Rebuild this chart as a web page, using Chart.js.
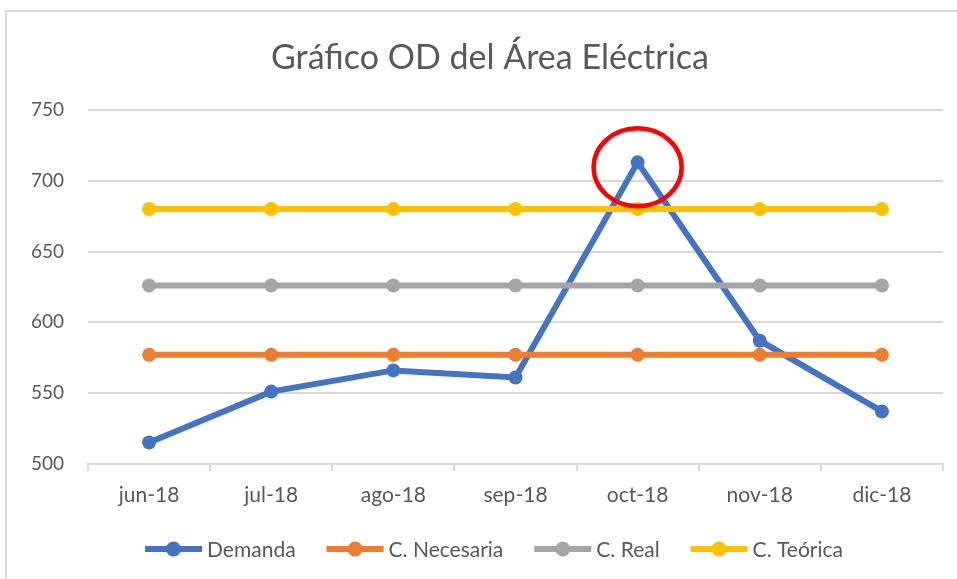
<!DOCTYPE html>
<html lang="es">
<head>
<meta charset="utf-8">
<title>Gráfico OD del Área Eléctrica</title>
<script src="https://cdn.jsdelivr.net/npm/chart.js@4.4.1/dist/chart.umd.min.js"></script>
<style>
    html, body { margin: 0; padding: 0; background: #fff; overflow: hidden; }
    .frame {
        position: absolute; left: 5px; top: 10px;
        width: 975px; height: 600px;
        border-left: 2px solid #d9d9d9; border-top: 2px solid #d9d9d9;
        background: #fff;
    }
    canvas { display: block; }
</style>
</head>
<body>
<div class="frame"><canvas id="odChart" width="966" height="567"></canvas></div>
<script>
// Datos del área eléctrica (jun-18 a dic-18)
const meses = ["jun-18", "jul-18", "ago-18", "sep-18", "oct-18", "nov-18", "dic-18"];
const demanda = [515, 551, 566, 561, 713, 587, 537];
const capNecesaria = [577, 577, 577, 577, 577, 577, 577];
const capReal = [626, 626, 626, 626, 626, 626, 626];
const capTeorica = [680, 680, 680, 680, 680, 680, 680];

const yMin = 500;
const yMax = 750;
const yStep = 50;

const chartTitle = "Gráfico OD del Área Eléctrica";
const textColor = "#595959";
const gridColor = "#d9d9d9";
const fontFamily = "Lato, 'Liberation Sans', sans-serif";

const series = [
    { label: "Demanda", data: demanda, color: "#4472c4" },
    { label: "C. Necesaria", data: capNecesaria, color: "#ed7d31" },
    { label: "C. Real", data: capReal, color: "#a5a5a5" },
    { label: "C. Teórica", data: capTeorica, color: "#ffc000" }
];

// Title on top and the line+dot key underneath the axis
const titleAndKey = {
    id: "titleAndKey",
    afterDraw(chart) {
        const ctx = chart.ctx;
        const cx = chart.width / 2;
        ctx.save();
        ctx.fillStyle = textColor;

        ctx.font = "34px " + fontFamily;
        ctx.textAlign = "center";
        ctx.textBaseline = "alphabetic";
        ctx.fillText(chartTitle, cx, 57);

        // key
        const iconW = 57, gap = 5, spacing = 31, keyY = 537;
        ctx.font = "21px " + fontFamily;
        const widths = series.map(s => iconW + gap + ctx.measureText(s.label).width);
        const total = widths.reduce((a, b) => a + b, 0) + spacing * (series.length - 1);
        let x = cx + 4 - total / 2;
        ctx.textAlign = "left";
        ctx.textBaseline = "middle";
        series.forEach((s, i) => {
            ctx.strokeStyle = s.color;
            ctx.lineWidth = 6;
            ctx.beginPath();
            ctx.moveTo(x, keyY);
            ctx.lineTo(x + iconW, keyY);
            ctx.stroke();
            ctx.fillStyle = s.color;
            ctx.beginPath();
            ctx.arc(x + iconW / 2, keyY, 7.5, 0, Math.PI * 2);
            ctx.fill();
            ctx.fillStyle = textColor;
            ctx.fillText(s.label, x + iconW + gap, keyY + 1);
            x += widths[i] + spacing;
        });
        ctx.restore();
    }
};

// red ring around the October demand peak
const peakRing = {
    id: "peakRing",
    afterDatasetsDraw(chart) {
        const meta = chart.getDatasetMeta(0);
        const idx = demanda.indexOf(Math.max(...demanda));
        const pt = meta.data[idx];
        if (!pt) return;
        const ctx = chart.ctx;
        ctx.save();
        ctx.strokeStyle = "#ff0000";
        ctx.lineWidth = 4.5;
        ctx.beginPath();
        ctx.ellipse(pt.x, pt.y + 5, 44, 39, 0, 0, Math.PI * 2);
        ctx.stroke();
        ctx.restore();
    }
};

new Chart(document.getElementById("odChart"), {
    type: "line",
    data: {
        labels: meses,
        datasets: series.map((s, i) => ({
            label: s.label,
            data: s.data,
            borderColor: s.color,
            backgroundColor: s.color,
            borderWidth: 6,
            pointRadius: 7,
            pointHoverRadius: 7,
            pointBorderWidth: 0,
            tension: 0,
            // later series paint over earlier ones
            order: series.length - i
        }))
    },
    options: {
        responsive: false,
        animation: false,
        devicePixelRatio: 1,
        layout: { padding: { left: 22, right: 30, top: 98, bottom: 59 } },
        plugins: {
            title: { display: false },
            legend: { display: false },
            tooltip: { enabled: false }
        },
        scales: {
            x: {
                offset: true,
                afterFit(scale) {
                    // labels sit inside their categories, no extra side padding
                    scale.paddingLeft = 0;
                    scale.paddingRight = 0;
                },
                grid: {
                    offset: true,
                    drawOnChartArea: false,
                    drawTicks: true,
                    tickLength: 7,
                    color: gridColor,
                    lineWidth: 2
                },
                border: { display: true, color: gridColor, width: 2 },
                ticks: {
                    color: textColor,
                    font: { family: fontFamily, size: 21 },
                    padding: 12
                }
            },
            y: {
                min: yMin,
                max: yMax,
                afterFit(scale) {
                    scale.width = 59;
                },
                ticks: {
                    stepSize: yStep,
                    color: textColor,
                    font: { family: fontFamily, size: 19 },
                    padding: 24
                },
                grid: {
                    color: gridColor,
                    lineWidth: 2,
                    drawTicks: false
                },
                border: { display: false }
            }
        }
    },
    plugins: [peakRing, titleAndKey]
});
</script>
</body>
</html>
